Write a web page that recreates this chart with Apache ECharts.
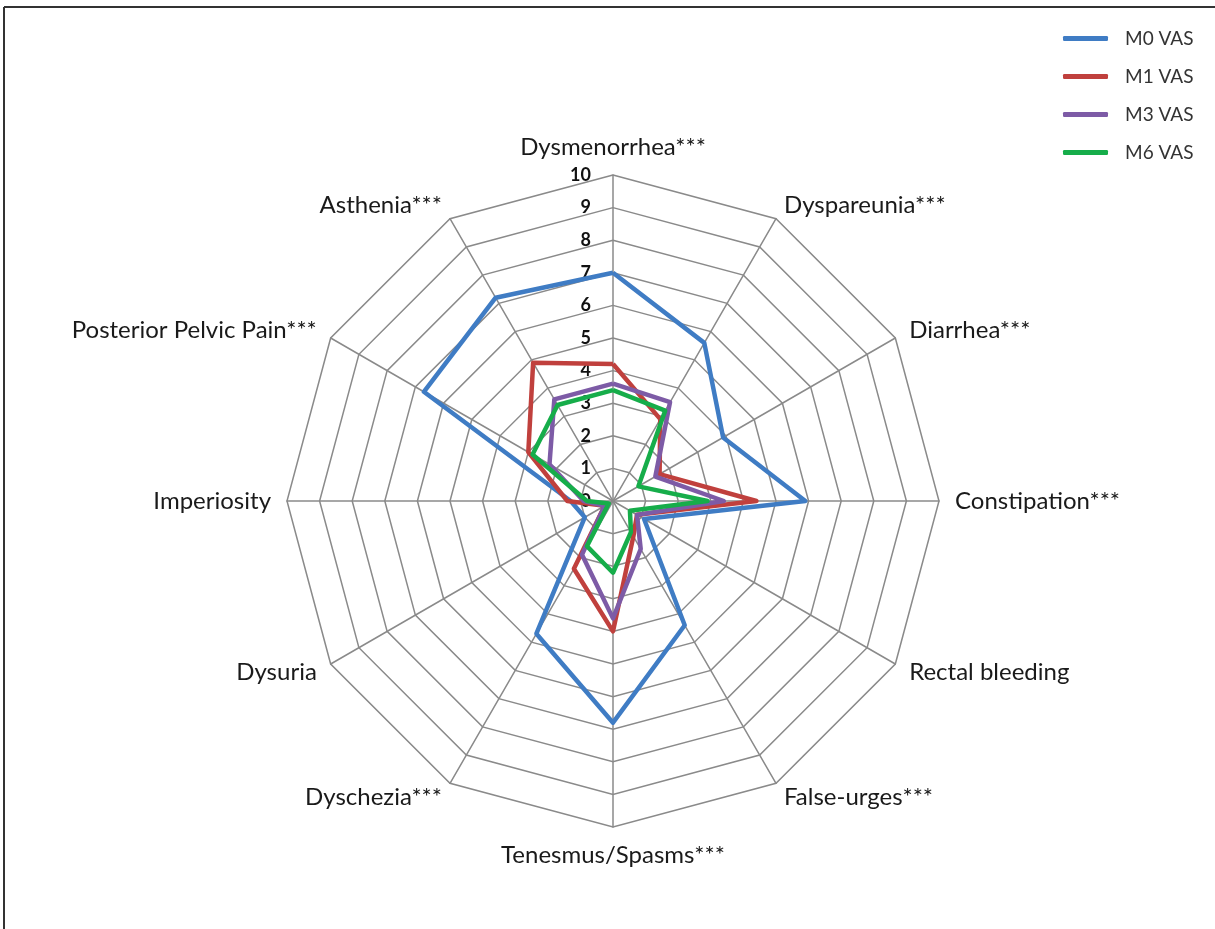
<!DOCTYPE html>
<html>
<head>
<meta charset="utf-8">
<script src="https://cdn.jsdelivr.net/npm/echarts@6/dist/echarts.min.js"></script>
<style>
  html, body { margin: 0; padding: 0; background: #fff; }
  #chart { width: 1215px; height: 929px; }
</style>
</head>
<body>
<div id="chart"></div>
<script>
// symptoms, clockwise from the top
const symptoms = [
  'Dysmenorrhea***', 'Dyspareunia***', 'Diarrhea***', 'Constipation***',
  'Rectal bleeding', 'False-urges***', 'Tenesmus/Spasms***', 'Dyschezia***',
  'Dysuria', 'Imperiosity', 'Posterior Pelvic Pain***', 'Asthenia***'
];
const seriesNames = ['M0 VAS', 'M1 VAS', 'M3 VAS', 'M6 VAS'];
const m0 = [7.0, 5.6, 3.9, 5.9, 1.1, 4.4, 6.8, 4.7, 1.0, 1.3, 6.7, 7.2];
const m1 = [4.2, 2.9, 1.65, 4.4, 0.85, 1.25, 4.0, 2.4, 0.3, 1.4, 3.0, 4.9];
const m3 = [3.6, 3.5, 1.5, 3.4, 0.85, 1.7, 3.6, 1.9, 0.3, 0.9, 2.25, 3.6];
const m6 = [3.4, 3.2, 0.9, 2.9, 0.6, 1.1, 2.2, 1.6, 0.15, 0.8, 2.85, 3.4];
const colors = ['#3F7CC4', '#C0403D', '#7D5BA6', '#16AD4A'];
const scaleMax = 10;

// echarts lays indicators out counter-clockwise, so reverse all but the first
const order = [0].concat(symptoms.map((s, i) => i).slice(1).reverse());
const pick = arr => order.map(i => arr[i]);

const chart = echarts.init(document.getElementById('chart'));
const option = {
  animation: false,
  color: colors,
  legend: {
    orient: 'vertical',
    left: 1058,
    top: 24,
    itemWidth: 45,
    itemHeight: 5,
    itemGap: 19,
    icon: 'roundRect',
    textStyle: { fontFamily: 'Lato', fontSize: 19, color: '#333', padding: [0, 0, 0, 12] },
    data: seriesNames
  },
  graphic: [
    { type: 'line', shape: { x1: 4, y1: 7, x2: 1215, y2: 7 }, style: { stroke: '#333', lineWidth: 2 } },
    { type: 'line', shape: { x1: 4, y1: 7, x2: 4, y2: 929 }, style: { stroke: '#333', lineWidth: 2 } }
  ],
  radar: {
    center: [613, 501],
    radius: 326,
    startAngle: 90,
    shape: 'polygon',
    splitNumber: 10,
    nameGap: 16,
    axisName: { color: '#1a1a1a', fontFamily: 'Lato', fontSize: 24 },
    splitLine: { lineStyle: { color: '#8a8a8a', width: 1.5 } },
    splitArea: { show: false },
    axisLine: { lineStyle: { color: '#8a8a8a', width: 1.5 } },
    axisTick: { show: false },
    axisLabel: { show: false },
    indicator: pick(symptoms).map((name, i) => {
      const ind = { name: name, min: 0, max: scaleMax };
      if (i === 0) {
        ind.axisLabel = {
          show: true, color: '#111', fontWeight: 'bold',
          fontFamily: 'Lato', fontSize: 18, margin: 22
        };
      }
      return ind;
    })
  },
  series: [{
    type: 'radar',
    symbol: 'none',
    data: [m0, m1, m3, m6].map((vals, k) => ({
      name: seriesNames[k],
      value: pick(vals),
      lineStyle: { color: colors[k], width: 4.5 },
      itemStyle: { color: colors[k] }
    }))
  }]
};
chart.setOption(option);
</script>
</body>
</html>
